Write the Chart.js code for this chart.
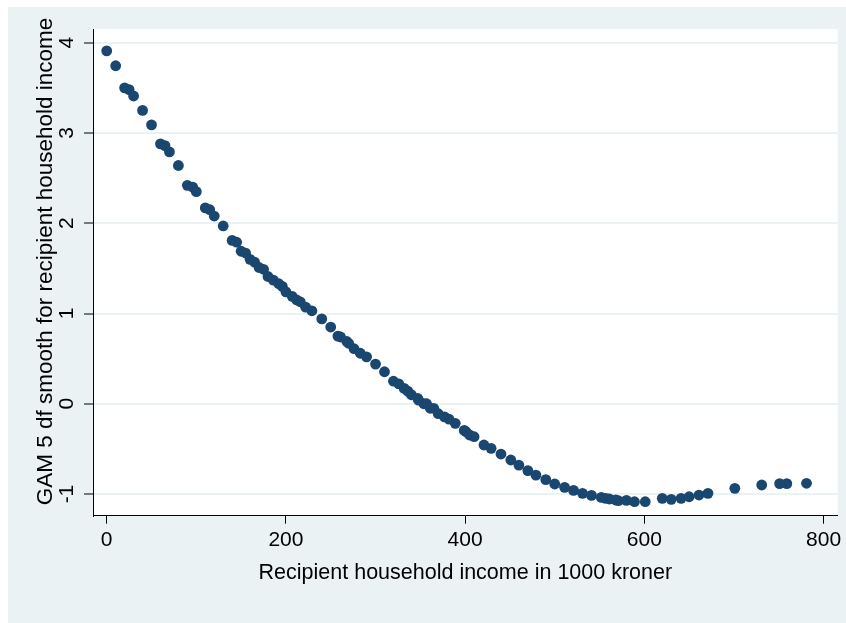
<!DOCTYPE html>
<html><head><meta charset="utf-8">
<script src="https://cdn.jsdelivr.net/npm/chart.js@4"></script>
<style>html,body{margin:0;padding:0;background:#fff;overflow:hidden}</style>
</head><body>
<canvas id="c" width="846" height="623"></canvas>
<script>
const income = [0,10,20,25,30,40,50,60,65,70,80,90,96,100,110,115,120,130,140,145,150,155,160,165,170,175,180,186,192,196,200,207,212,216,222,229,240,250,258,261,268,270,276,283,290,300,310,320,326,332,336,340,347,348,354,357,361,365,370,377,382,389,399,401,405,410,421,429,440,451,460,470,479,490,500,511,521,531,541,552,557,561,568,571,580,589,601,620,630,641,650,661,671,701,731,751,759,781];
const gamSmooth = [3.91,3.745,3.50,3.48,3.41,3.25,3.09,2.88,2.86,2.79,2.64,2.42,2.40,2.35,2.17,2.15,2.08,1.97,1.81,1.79,1.69,1.67,1.60,1.57,1.51,1.49,1.41,1.37,1.33,1.30,1.24,1.19,1.15,1.13,1.07,1.03,0.94,0.85,0.75,0.74,0.69,0.67,0.61,0.56,0.52,0.44,0.355,0.25,0.22,0.17,0.14,0.10,0.06,0.04,0.00,0.00,-0.05,-0.05,-0.11,-0.145,-0.17,-0.217,-0.295,-0.31,-0.346,-0.365,-0.457,-0.494,-0.557,-0.623,-0.679,-0.74,-0.79,-0.84,-0.889,-0.926,-0.96,-0.992,-1.015,-1.037,-1.048,-1.055,-1.066,-1.074,-1.07,-1.085,-1.085,-1.048,-1.059,-1.048,-1.03,-1.011,-0.992,-0.937,-0.90,-0.885,-0.885,-0.881];
const xTickValues = [0,200,400,600,800];
const yTickValues = [-1,0,1,2,3,4];
const xTitle = 'Recipient household income in 1000 kroner';
const yTitle = 'GAM 5 df smooth for recipient household income';

const points = income.map((x, i) => ({x: x, y: gamSmooth[i]}));
const FONT = 'Liberation Sans, Arial, Helvetica, sans-serif';

const bgPlugin = {
  id: 'bg',
  beforeDraw(chart) {
    const {ctx, chartArea: a} = chart;
    ctx.save();
    ctx.fillStyle = '#ffffff';
    ctx.fillRect(0, 0, chart.width, chart.height);
    ctx.fillStyle = '#EAF2F3';
    ctx.fillRect(8, 7, chart.width - 8, chart.height - 7);
    ctx.fillStyle = '#ffffff';
    ctx.fillRect(a.left, a.top, a.right - a.left, a.bottom - a.top);
    ctx.restore();
  }
};

const yTitlePlugin = {
  id: 'ytitle',
  afterDraw(chart) {
    const ctx = chart.ctx;
    ctx.save();
    ctx.translate(45.5, 261.5);
    ctx.rotate(-Math.PI / 2);
    ctx.fillStyle = '#000';
    ctx.font = '22.5px ' + FONT;
    ctx.textAlign = 'center';
    ctx.textBaseline = 'middle';
    ctx.fillText(yTitle, 0, 0);
    ctx.restore();
  }
};

new Chart(document.getElementById('c'), {
  type: 'scatter',
  data: {datasets: [{
    data: points,
    backgroundColor: '#1a476f',
    borderColor: '#1a476f',
    borderWidth: 0,
    pointRadius: 5.4,
    pointHoverRadius: 5.4
  }]},
  options: {
    responsive: false,
    devicePixelRatio: 1,
    animation: false,
    events: [],
    layout: {padding: {top: 29, right: 8.3, left: 0, bottom: 0}},
    plugins: {legend: {display: false}, tooltip: {enabled: false}},
    scales: {
      x: {
        type: 'linear', position: 'bottom', min: -15.3, max: 815.8,
        afterBuildTicks: s => { s.ticks = xTickValues.map(v => ({value: v})); },
        afterFit: s => { s.height = 107.3; },
        grid: {drawOnChartArea: false, tickColor: '#000', tickLength: 8, tickWidth: 1},
        border: {color: '#000', width: 1},
        ticks: {font: {family: FONT, size: 21}, color: '#000', padding: 4, maxRotation: 0, minRotation: 0},
        title: {display: true, text: xTitle, color: '#000', font: {family: FONT, size: 21.5}, padding: {top: 0, bottom: 36.6}}
      },
      y: {
        type: 'linear', position: 'left', min: -1.24, max: 4.152,
        afterBuildTicks: s => { s.ticks = yTickValues.map(v => ({value: v})); },
        afterFit: s => { s.width = 93; },
        grid: {color: '#EAF2F3', lineWidth: 2, tickColor: '#000', tickLength: 9, tickWidth: 1},
        border: {color: '#000', width: 1},
        ticks: {font: {family: FONT, size: 21}, color: '#000', padding: 7, minRotation: 90, maxRotation: 90, crossAlign: 'center'},
        title: {display: false}
      }
    }
  },
  plugins: [bgPlugin, yTitlePlugin]
});
</script>
</body></html>
